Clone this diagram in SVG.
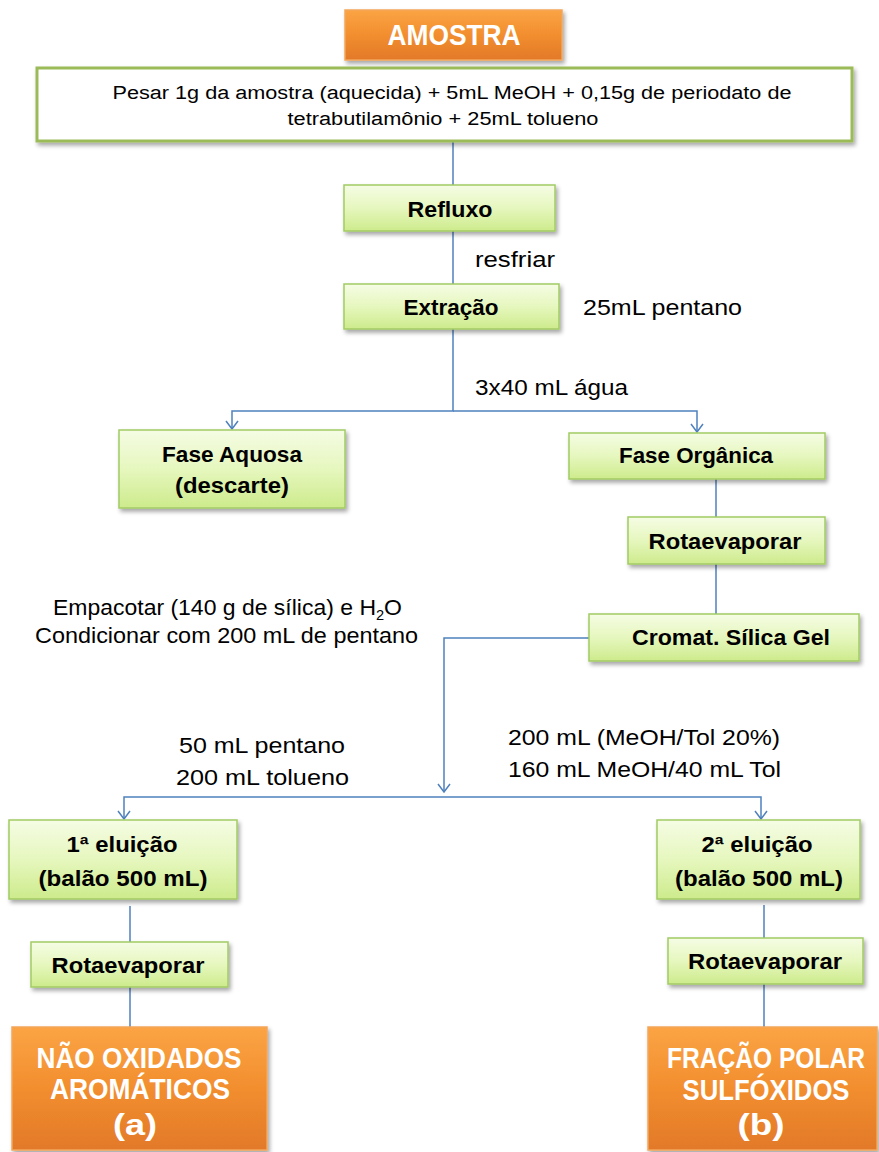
<svg xmlns="http://www.w3.org/2000/svg" width="879" height="1152" viewBox="0 0 879 1152">
  <defs>
    <linearGradient id="gGreen" x1="0" y1="0" x2="0" y2="1">
      <stop offset="0" stop-color="#F5FCE4"/>
      <stop offset="0.5" stop-color="#E6F7BE"/>
      <stop offset="1" stop-color="#CDEB8C"/>
    </linearGradient>
    <linearGradient id="gOrange" x1="0" y1="0" x2="0" y2="1">
      <stop offset="0" stop-color="#FBA445"/>
      <stop offset="0.5" stop-color="#F28E2E"/>
      <stop offset="1" stop-color="#E2792A"/>
    </linearGradient>
    <filter id="shadow" x="-10%" y="-20%" width="125%" height="150%">
      <feDropShadow dx="2" dy="3" stdDeviation="2" flood-color="#000" flood-opacity="0.35"/>
    </filter>
    <marker id="arrow" viewBox="-10 -8 12 16" refX="0" refY="0" markerWidth="12" markerHeight="16" markerUnits="userSpaceOnUse" orient="auto">
      <path d="M-8,-6 L0,0 L-8,6" fill="none" stroke="#4F81BD" stroke-width="1.5"/>
    </marker>
    <style>
      .green { fill: url(#gGreen); stroke: #A3CB64; stroke-width: 1.5; filter: url(#shadow); }
      .orange { fill: url(#gOrange); stroke: #F3A65A; stroke-width: 1.5; filter: url(#shadow); }
      .plain { fill: #FFFFFF; stroke: #9BBB59; stroke-width: 3; filter: url(#shadow); }
      .lbl { font-family: "Liberation Sans", Arial, sans-serif; font-weight: bold; font-size: 22px; fill: #000; text-anchor: middle; }
      .big { font-family: "Liberation Sans", Arial, sans-serif; font-weight: bold; font-size: 29px; fill: #FFFFFF; text-anchor: middle; }
      .note { font-family: "Liberation Sans", Arial, sans-serif; font-size: 22px; fill: #000; }
      .small { font-family: "Liberation Sans", Arial, sans-serif; font-size: 18px; fill: #000; text-anchor: middle; }
      .conn { fill: none; stroke: #4F81BD; stroke-width: 1.5; }
    </style>
  </defs>

  <rect width="879" height="1152" fill="#FFFFFF"/>

  <!-- connectors -->
  <g id="connectors">
    <path class="conn" d="M453,141 V185"/>
    <path class="conn" d="M453,231 V284"/>
    <path class="conn" d="M453,329 V411 H232 V429" marker-end="url(#arrow)"/>
    <path class="conn" d="M453,411 H697 V432" marker-end="url(#arrow)"/>
    <path class="conn" d="M716,479 V517"/>
    <path class="conn" d="M716,564 V614"/>
    <path class="conn" d="M589,638 H444 V792" marker-end="url(#arrow)"/>
    <path class="conn" d="M444,797 H124 V819" marker-end="url(#arrow)"/>
    <path class="conn" d="M444,797 H761 V819" marker-end="url(#arrow)"/>
    <path class="conn" d="M130,906 V942"/>
    <path class="conn" d="M130,987 V1027"/>
    <path class="conn" d="M764,905 V938"/>
    <path class="conn" d="M764,984 V1027"/>
  </g>

  <!-- free labels -->
  <g id="labels">
    <text class="note" x="475" y="267" textLength="80" lengthAdjust="spacingAndGlyphs">resfriar</text>
    <text class="note" x="583" y="315" textLength="159" lengthAdjust="spacingAndGlyphs">25mL pentano</text>
    <text class="note" x="475" y="395" textLength="153" lengthAdjust="spacingAndGlyphs">3x40 mL água</text>
    <text class="note" x="53" y="615" textLength="349" lengthAdjust="spacingAndGlyphs">Empacotar (140 g de sílica) e H<tspan font-size="14" dy="5">2</tspan><tspan dy="-5">O</tspan></text>
    <text class="note" x="35" y="643" textLength="383" lengthAdjust="spacingAndGlyphs">Condicionar com 200 mL de pentano</text>
    <text class="note" x="179" y="753" textLength="166" lengthAdjust="spacingAndGlyphs">50 mL pentano</text>
    <text class="note" x="176" y="785" textLength="173" lengthAdjust="spacingAndGlyphs">200 mL tolueno</text>
    <text class="note" x="508" y="745" textLength="272" lengthAdjust="spacingAndGlyphs">200 mL (MeOH/Tol 20%)</text>
    <text class="note" x="508" y="777" textLength="273" lengthAdjust="spacingAndGlyphs">160 mL MeOH/40 mL Tol</text>
  </g>

  <g id="amostra">
    <rect class="orange" x="345" y="10" width="217" height="50"/>
    <text class="big" x="454" y="45" font-size="27" textLength="133" lengthAdjust="spacingAndGlyphs">AMOSTRA</text>
  </g>

  <g id="pesar">
    <rect class="plain" x="37" y="68" width="815" height="73"/>
    <text class="small" x="452" y="99" textLength="679" lengthAdjust="spacingAndGlyphs">Pesar 1g da amostra (aquecida) + 5mL MeOH + 0,15g de periodato de</text>
    <text class="small" x="443" y="125" textLength="311" lengthAdjust="spacingAndGlyphs">tetrabutilamônio + 25mL tolueno</text>
  </g>

  <g id="refluxo">
    <rect class="green" x="344" y="185" width="211" height="46"/>
    <text class="lbl" x="450" y="217" textLength="85" lengthAdjust="spacingAndGlyphs">Refluxo</text>
  </g>

  <g id="extracao">
    <rect class="green" x="344" y="284" width="215" height="45"/>
    <text class="lbl" x="451" y="315" textLength="95" lengthAdjust="spacingAndGlyphs">Extração</text>
  </g>

  <g id="fase-aquosa">
    <rect class="green" x="119" y="430" width="226" height="78"/>
    <text class="lbl" x="232" y="462" textLength="140" lengthAdjust="spacingAndGlyphs">Fase Aquosa</text>
    <text class="lbl" x="232" y="493" textLength="114" lengthAdjust="spacingAndGlyphs">(descarte)</text>
  </g>

  <g id="fase-organica">
    <rect class="green" x="569" y="433" width="256" height="46"/>
    <text class="lbl" x="696" y="463" textLength="154" lengthAdjust="spacingAndGlyphs">Fase Orgânica</text>
  </g>

  <g id="rotaevaporar-1">
    <rect class="green" x="628" y="517" width="197" height="47"/>
    <text class="lbl" x="725" y="549" textLength="153" lengthAdjust="spacingAndGlyphs">Rotaevaporar</text>
  </g>

  <g id="cromat">
    <rect class="green" x="589" y="614" width="270" height="47"/>
    <text class="lbl" x="731" y="645" textLength="198" lengthAdjust="spacingAndGlyphs">Cromat. Sílica Gel</text>
  </g>

  <g id="eluicao-1">
    <rect class="green" x="9" y="820" width="228" height="79"/>
    <text class="lbl" x="122" y="852" textLength="111" lengthAdjust="spacingAndGlyphs">1ª eluição</text>
    <text class="lbl" x="123" y="886" textLength="169" lengthAdjust="spacingAndGlyphs">(balão 500 mL)</text>
  </g>

  <g id="eluicao-2">
    <rect class="green" x="657" y="820" width="203" height="79"/>
    <text class="lbl" x="757" y="852" textLength="111" lengthAdjust="spacingAndGlyphs">2ª eluição</text>
    <text class="lbl" x="759" y="886" textLength="168" lengthAdjust="spacingAndGlyphs">(balão 500 mL)</text>
  </g>

  <g id="rotaevaporar-2">
    <rect class="green" x="31" y="942" width="197" height="45"/>
    <text class="lbl" x="128" y="973" textLength="153" lengthAdjust="spacingAndGlyphs">Rotaevaporar</text>
  </g>

  <g id="rotaevaporar-3">
    <rect class="green" x="668" y="938" width="195" height="46"/>
    <text class="lbl" x="765" y="969" textLength="154" lengthAdjust="spacingAndGlyphs">Rotaevaporar</text>
  </g>

  <g id="nao-oxidados">
    <rect class="orange" x="12" y="1027" width="255" height="123"/>
    <text class="big" x="139" y="1068" textLength="205" lengthAdjust="spacingAndGlyphs">NÃO OXIDADOS</text>
    <text class="big" x="140" y="1099" textLength="180" lengthAdjust="spacingAndGlyphs">AROMÁTICOS</text>
    <text class="big" x="135" y="1135" textLength="44" lengthAdjust="spacingAndGlyphs">(a)</text>
  </g>

  <g id="fracao-polar">
    <rect class="orange" x="648" y="1027" width="229" height="123"/>
    <text class="big" x="766" y="1068" textLength="198" lengthAdjust="spacingAndGlyphs">FRAÇÃO POLAR</text>
    <text class="big" x="766" y="1100" textLength="167" lengthAdjust="spacingAndGlyphs">SULFÓXIDOS</text>
    <text class="big" x="761" y="1135" textLength="47" lengthAdjust="spacingAndGlyphs">(b)</text>
  </g>
</svg>
